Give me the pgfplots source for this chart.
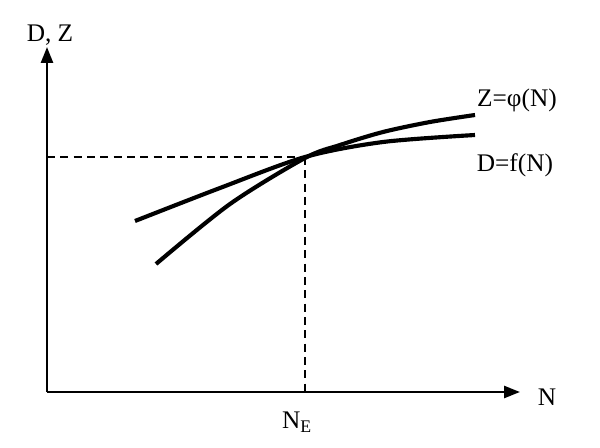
\documentclass[border=0pt]{standalone}
\usepackage{pgfplots}
\pgfplotsset{compat=1.18}
\usepackage{fontspec}
\setmainfont{Liberation Serif}
\usetikzlibrary{arrows.meta}
\newcommand{\lf}{\fontsize{19}{22}\selectfont}
\begin{document}
\begin{tikzpicture}
\begin{axis}[
  scale only axis, width=450pt, height=335.25pt,
  xmin=0, xmax=600, ymin=0, ymax=447,
  axis lines=none, clip=false,
]
\path (axis cs:0,0) rectangle (axis cs:600,447);
% axes
\addplot[black, line width=1.9pt, -{Triangle[length=12pt,width=9pt]}] coordinates {(47,55) (520,55)};
\addplot[black, line width=1.9pt, -{Triangle[length=12pt,width=9pt]}] coordinates {(47,55) (47,400)};
% dashed guides
\addplot[black, line width=1.2pt, dash pattern=on 6pt off 4pt] coordinates {(47,290) (305,290)};
\addplot[black, line width=1.2pt, dash pattern=on 6pt off 4pt] coordinates {(305,290) (305,55)};
% D=f(N)
\addplot[black, line width=3.1pt, smooth] coordinates {(135,226) (220,259) (305,290) (383,305) (475,312)};
% Z=phi(N)
\addplot[black, line width=3.1pt, smooth] coordinates {(156,183) (230,243) (305,289) (340,302) (383,315) (430,325) (475,332)};
% labels
\node[font=\lf] at (axis cs:50,412) {D, Z};
\node[font=\lf] at (axis cs:547,50) {N};
\node[font=\lf] at (axis cs:297,25) {N\textsubscript{E}};
\node[font=\lf] at (axis cs:517,347) {Z=φ(N)};
\node[font=\lf] at (axis cs:515,282) {D=f(N)};
\end{axis}
\end{tikzpicture}
\end{document}
